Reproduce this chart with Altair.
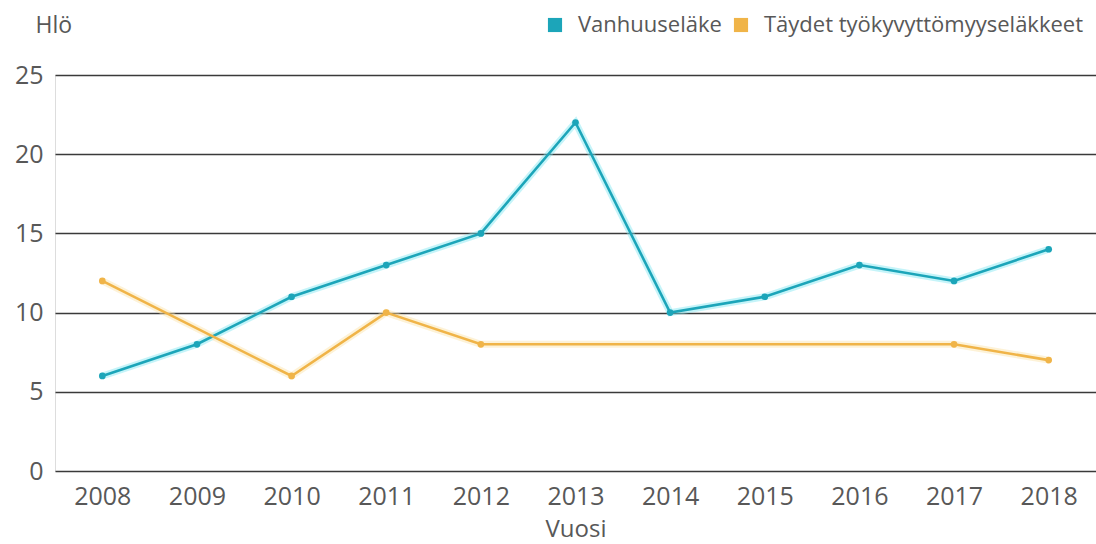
import altair as alt
import pandas as pd

years = ["2008", "2009", "2010", "2011", "2012", "2013", "2014", "2015", "2016", "2017", "2018"]
vanhuus = [6, 8, 11, 13, 15, 22, 10, 11, 13, 12, 14]
tyokyvyt = [12, None, 6, 10, 8, None, None, None, None, 8, 7]

s1 = "Vanhuuseläke"
s2 = "Täydet työkyvyttömyyseläkkeet"

rows = []
for y, v in zip(years, vanhuus):
    rows.append({"Vuosi": y, "Sarja": s1, "Hlö": v})
for y, v in zip(years, tyokyvyt):
    if v is not None:
        rows.append({"Vuosi": y, "Sarja": s2, "Hlö": v})
df = pd.DataFrame(rows)

FONT = "Open Sans"
TXT = "#585858"
colors = ["#1ca5b9", "#f0b448"]
halo = ["#7fe6f2", "#fbe2a6"]

x = alt.X("Vuosi:N", sort=years, scale=alt.Scale(domain=years, paddingOuter=0.5, paddingInner=0),
          axis=alt.Axis(title="Vuosi", labelAngle=0, domain=False, ticks=False, labelPadding=13,
                        labelFontSize=25, titleFontSize=24, titleFontWeight="normal",
                        labelColor=TXT, titleColor=TXT, titlePadding=8, labelFont=FONT, titleFont=FONT))
y = alt.Y("Hlö:Q", scale=alt.Scale(domain=[0, 25]),
          axis=alt.Axis(values=[0, 5, 10, 15, 20, 25], title="Hlö", titleAngle=0, titleAlign="left",
                        titleBaseline="alphabetic", titleX=-20, titleY=-43, domain=False, ticks=False,
                        labelPadding=12, gridColor="#3a3a3a", gridWidth=1.4, gridOpacity=1,
                        labelFontSize=25, titleFontSize=23, titleFontWeight="normal",
                        labelColor=TXT, titleColor=TXT, labelFont=FONT, titleFont=FONT))
pt_color = alt.Color("Sarja:N", scale=alt.Scale(domain=[s1, s2], range=colors),
                     legend=alt.Legend(title=None, orient="none", legendX=489, legendY=-61, direction="horizontal",
                                       symbolType="square", symbolSize=200, symbolStrokeWidth=0,
                                       labelFontSize=22, labelColor=TXT, labelFont=FONT, columnPadding=8,
                                       labelOffset=12, labelLimit=0, symbolOpacity=1))
line_color = alt.Color("Sarja:N", scale=alt.Scale(domain=[s1, s2], range=colors), legend=None)
halo_color = alt.Color("Sarja:N", scale=alt.Scale(domain=[s1, s2], range=halo), legend=None)

base = alt.Chart(df)
glow = base.mark_line(strokeWidth=7, opacity=0.45).encode(x=x, y=y, color=halo_color)
lines = base.mark_line(strokeWidth=2.6).encode(x=x, y=y, color=line_color)
pts = base.mark_point(filled=True, size=45, opacity=1).encode(x=x, y=y, color=pt_color)

chart = alt.layer(glow, lines, pts).resolve_scale(color="independent").properties(
    width=1041, height=396,
    autosize=alt.AutoSizeParams(type="none"),
    padding={"left": 55, "top": 75, "right": 0, "bottom": 73},
).configure_view(strokeWidth=0).configure(background="white")

chart.save("out.html", embed_options={"renderer": "svg", "actions": False})
